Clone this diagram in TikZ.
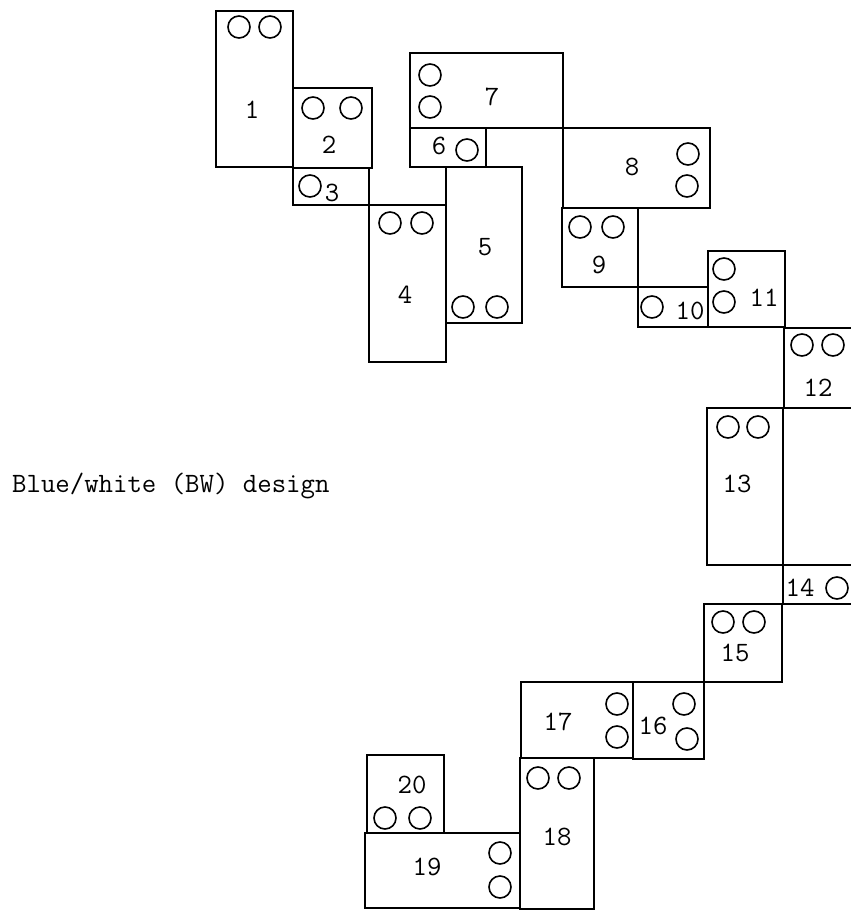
\documentclass[tikz,border=0pt]{standalone}
\usepackage{tikz}
\usetikzlibrary{positioning}

\newcommand{\bwfont}{\fontsize{28}{32}\selectfont\ttfamily}

\begin{document}
\begin{tikzpicture}[x=1pt, y=-1pt,
    box/.style={line width=1.9pt},
    seat/.style={line width=1.6pt},
    num/.style={font=\bwfont, inner sep=0pt}
  ]
  \useasboundingbox (0,0) rectangle (851,911);
  \clip (0,0) rectangle (851,911);

  % the twenty tables
  \foreach \x/\y/\u/\v in {216/11/293/167, 293/88/372/168, 293/168/369/205,
      369/205/446/362, 446/167/522/323, 410/128/486/167, 410/53/563/128,
      563/128/710/208, 562/208/638/287, 638/287/708/327, 708/251/785/327,
      784/328/870/408, 707/408/783/565, 783/565/870/604, 704/604/782/682,
      633/682/704/759, 521/682/633/758, 520/758/594/909, 365/833/520/908,
      367/755/444/833}
    \draw[box] (\x,\y) rectangle (\u,\v);

  % seats
  \foreach \x/\y in {239/27, 270/27, 313/108, 351/108, 310/186,
      390/223, 422/223, 463/307, 497/307, 467/150, 430/75, 430/107,
      688/154, 687/186, 580/227, 613/227, 652/307, 724/269, 724/302,
      802/345, 833/345, 728/427, 758/427, 837/588, 723/622, 754/622,
      684/704, 687/739, 617/704, 617/737, 538/778, 569/778,
      500/853, 500/887, 385/818, 420/818}
    \draw[seat] (\x,\y) circle[radius=11];

  % numbers
  \foreach \n/\x/\y in {1/252/110, 2/329/145, 3/332/193, 4/405/295,
      5/485/247, 6/439/146, 7/492/97, 8/632/167, 9/599/265, 10/690/311,
      11/764/298, 12/818/388, 13/737/484, 14/800/588, 15/735/653,
      16/653/726, 17/558/722, 18/557/837, 19/427/867, 20/412/785}
    \node[num] (n\n) at (\x,\y) {\n};

  \node[num, anchor=base west] (title) at (12,492) {Blue/white (BW) design};
\end{tikzpicture}
\end{document}
